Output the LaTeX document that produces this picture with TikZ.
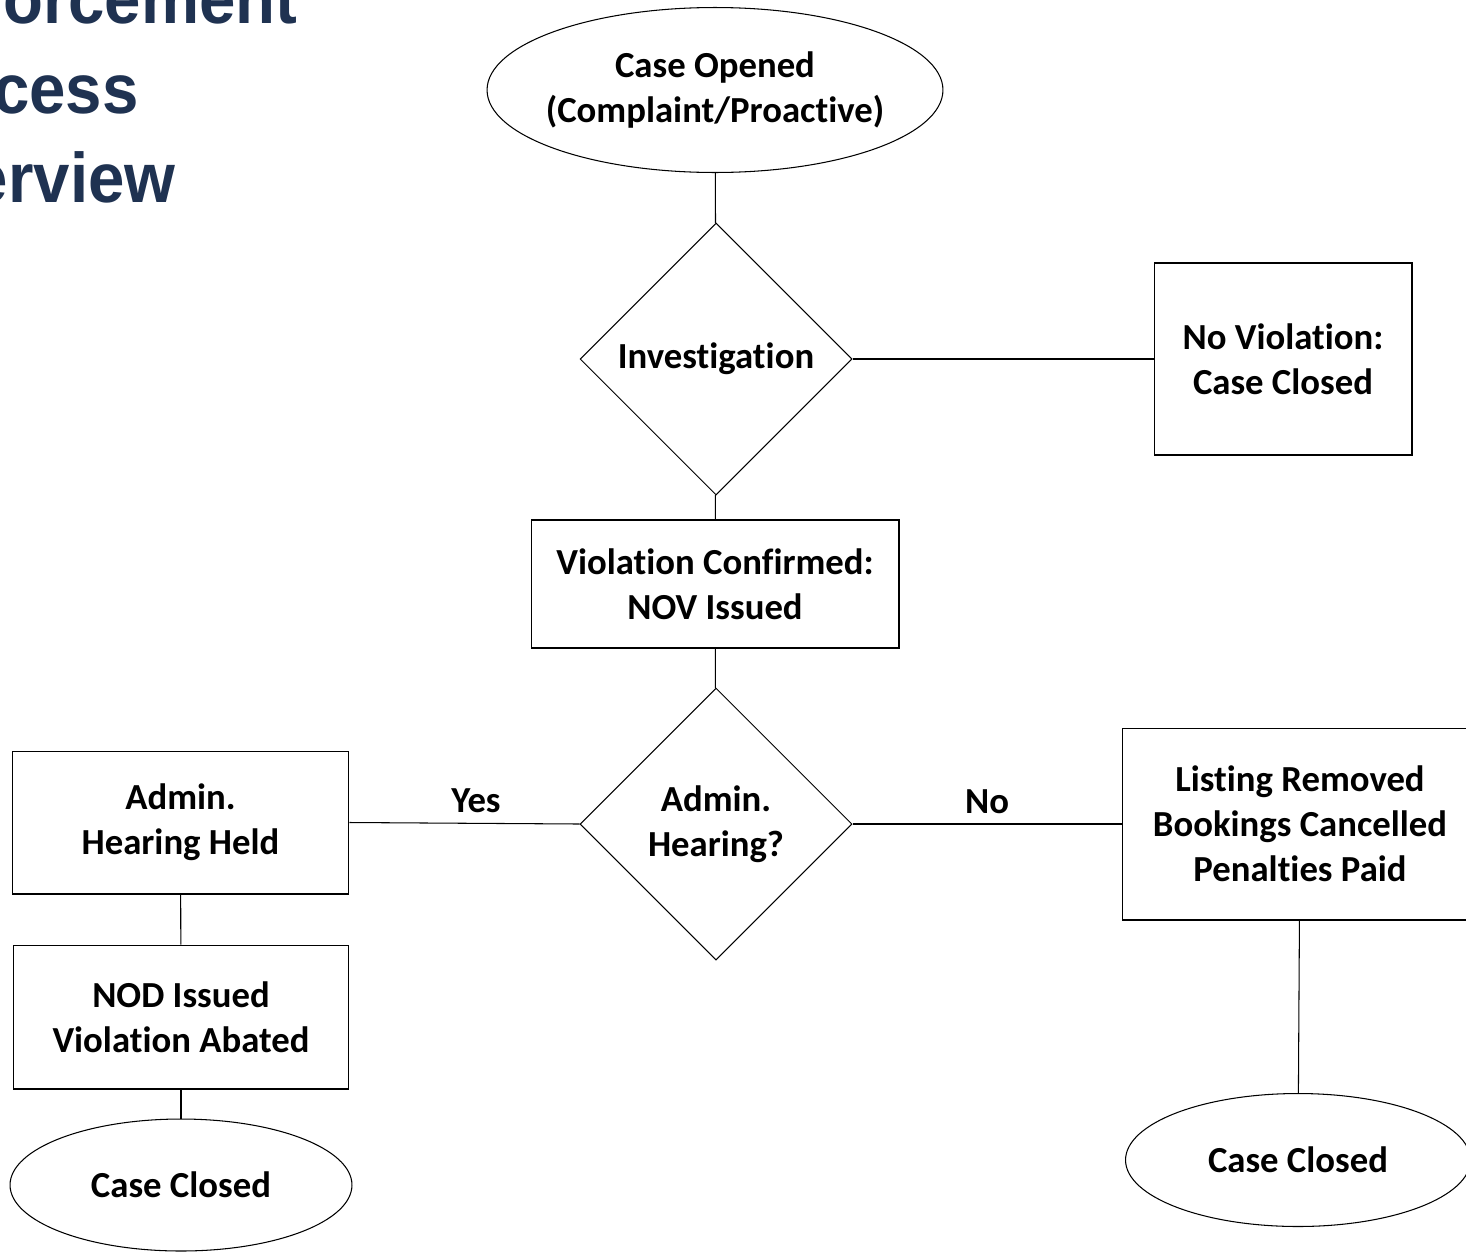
\documentclass[tikz,border=0pt]{standalone}
\usepackage{fontspec}
\setmainfont[Ligatures=NoCommon]{Carlito}
\newfontfamily\titlefont[FakeStretch=0.93]{Liberation Sans}
\usetikzlibrary{shapes.geometric}
\definecolor{titleblue}{HTML}{1F3251}

\begin{document}
\begin{tikzpicture}[x=0.02cm,y=-0.02cm,line width=0.6pt,
  every node/.style={font=\bfseries\fontsize{20.9}{25.5}\selectfont},
  box/.style={draw,rectangle,align=center,inner sep=0pt},
  oval/.style={draw,ellipse,align=center,inner sep=0pt},
  decision/.style={draw,diamond,align=center,inner sep=0pt,
    minimum width=5.44cm,minimum height=5.44cm},
  heading/.style={text=titleblue,anchor=base east,inner sep=0pt,
    font=\titlefont\bfseries\fontsize{40}{48}\selectfont}]
\useasboundingbox (0,0) rectangle (1466,1251);
\clip (0,0) rectangle (1466,1251);
% title, cut off at the left
\node[heading] (t1) at (298,23) {Enforcement};
\node[heading] (t2) at (139,113) {Process};
\node[heading] (t3) at (176,202) {Overview};
% main column
\node[oval,inner xsep=-0.2cm,minimum width=9.12cm,minimum height=3.3cm] (open) at (715,90)
  {Case Opened\\(Complaint/Proactive)};
\node[decision] (inv) at (716,359) {Investigation};
\node[box,minimum width=5.16cm,minimum height=3.84cm] (noviol) at (1283,359)
  {No Violation:\\Case Closed};
\node[box,minimum width=7.36cm,minimum height=2.56cm] (nov) at (715,584)
  {Violation Confirmed:\\NOV Issued};
\node[decision] (hear) at (716,824) {Admin.\\Hearing?};
% yes branch
\node[box,minimum width=6.74cm,minimum height=2.86cm] (held) at (180.5,822.5)
  {Admin.\\Hearing Held};
\node[box,minimum width=6.72cm,minimum height=2.88cm] (nod) at (181,1017)
  {NOD Issued\\Violation Abated};
\node[oval,minimum width=6.84cm,minimum height=2.64cm] (closeda) at (181,1185)
  {Case Closed};
% no branch
\node[box,minimum width=7.12cm,minimum height=3.84cm] (list) at (1300,824)
  {Listing Removed\\Bookings Cancelled\\Penalties Paid};
\node[oval,minimum width=6.9cm,minimum height=2.66cm] (closedb) at (1298,1160)
  {Case Closed};

\draw (open) -- (inv);
\draw (inv.east) -- (noviol.west);
\draw (inv) -- (nov);
\draw (nov) -- (hear);
\draw (held.east) -- node[pos=.55,above=2.3pt] (yes) {Yes} (hear.west);
\draw (hear.east) -- node[pos=.5,above=2.3pt] (no) {No} (list.west);
\draw (held) -- (nod);
\draw (nod) -- (closeda);
\draw (list) -- (closedb);
\end{tikzpicture}
\end{document}
